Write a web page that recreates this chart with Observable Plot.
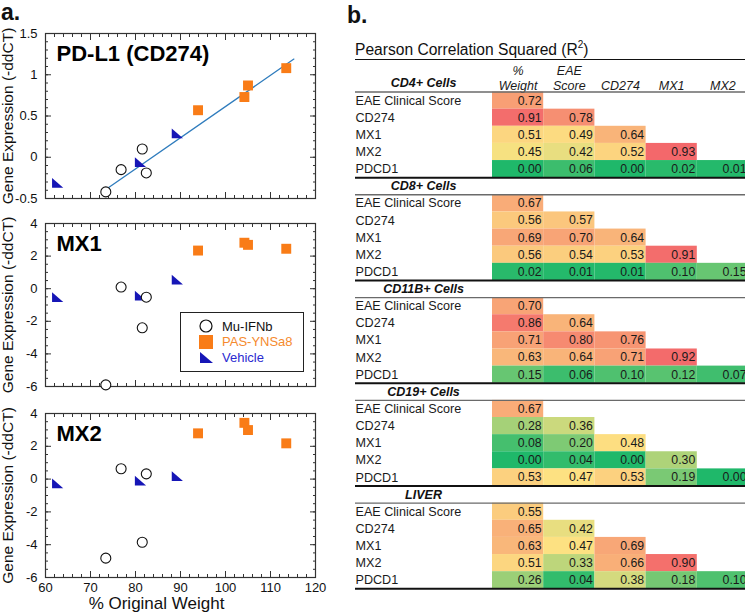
<!DOCTYPE html>
<html><head><meta charset="utf-8">
<script src="https://cdn.jsdelivr.net/npm/d3@7"></script>
<script src="https://cdn.jsdelivr.net/npm/@observablehq/plot@0.6"></script>
<style>
html,body{margin:0;padding:0;background:#fff;overflow:hidden;}
#root{position:relative;width:745px;height:613px;font-family:"Liberation Sans",Arial,sans-serif;color:#111;}
.abs{position:absolute;}
</style></head><body><div id="root"></div>
<script>
// ---------- Panel a data ----------
const xTicks = [60, 70, 80, 90, 100, 110, 120];
const pdl1Ticks = [-0.5, 0, 0.5, 1, 1.5];
const mxTicks = [-6, -4, -2, 0, 2, 4];

const groups = ["Mu-IFNb", "PAS-YNSa8", "Vehicle"];

const muWeight = [73.4, 76.8, 81.5, 82.4];
const pasWeight = [93.9, 104.2, 105.0, 113.5];
const vehWeight = [62.7, 81.1, 89.3];

const pdl1Mu = [-0.42, -0.15, 0.10, -0.19];
const pdl1Pas = [0.57, 0.73, 0.87, 1.08];
const pdl1Veh = [-0.31, -0.06, 0.29];
const pdl1FitWeight = [73.4, 115.2];
const pdl1FitValue = [-0.39, 1.19];

const mx1Mu = [-5.9, 0.1, -2.4, -0.52];
const mx1Pas = [2.34, 2.82, 2.69, 2.45];
const mx1Veh = [-0.52, -0.42, 0.55];

const mx2Mu = [-4.82, 0.63, -3.85, 0.32];
const mx2Pas = [2.79, 3.43, 2.99, 2.18];
const mx2Veh = [-0.26, -0.10, 0.18];

// ---------- Panel b data ----------
const sections = ["CD4+ Cells", "CD8+ Cells", "CD11B+ Cells", "CD19+ Cells", "LIVER"];
const rowLabels = ["EAE Clinical Score", "CD274", "MX1", "MX2", "PDCD1"];
const colLabels = ["%\nWeight", "EAE\nScore", "CD274", "MX1", "MX2"];
const cd4Values = [[0.72], [0.91, 0.78], [0.51, 0.49, 0.64], [0.45, 0.42, 0.52, 0.93], [0.00, 0.06, 0.00, 0.02, 0.01]];
const cd8Values = [[0.67], [0.56, 0.57], [0.69, 0.70, 0.64], [0.56, 0.54, 0.53, 0.91], [0.02, 0.01, 0.01, 0.10, 0.15]];
const cd11bValues = [[0.70], [0.86, 0.64], [0.71, 0.80, 0.76], [0.63, 0.64, 0.71, 0.92], [0.15, 0.06, 0.10, 0.12, 0.07]];
const cd19Values = [[0.67], [0.28, 0.36], [0.08, 0.20, 0.48], [0.00, 0.04, 0.00, 0.30], [0.53, 0.47, 0.53, 0.19, 0.00]];
const liverValues = [[0.55], [0.65, 0.42], [0.63, 0.47, 0.69], [0.51, 0.33, 0.66, 0.90], [0.26, 0.04, 0.38, 0.18, 0.10]];

// ---------- styles ----------
const FONT = "'Liberation Sans', Arial, sans-serif";
const groupColor = {"Mu-IFNb": "#111", "PAS-YNSa8": "#f97c17", "Vehicle": "#1616b6"};
const triangle = {draw(ctx, size) {
  const s = Math.sqrt(size);
  const w = s * 1.15, h = s * 1.0;
  ctx.moveTo(-w / 2, -h / 2); ctx.lineTo(-w / 2, h / 2); ctx.lineTo(w / 2, h / 2); ctx.closePath();
}};

const root = document.getElementById("root");
function place(el, left, top) {
  el.style.position = "absolute"; el.style.left = left + "px"; el.style.top = top + "px";
  root.appendChild(el);
}

function points(mu, pas, veh) {
  return [
    ...muWeight.map((w, i) => ({w, v: mu[i], g: groups[0]})),
    ...pasWeight.map((w, i) => ({w, v: pas[i], g: groups[1]})),
    ...vehWeight.map((w, i) => ({w, v: veh[i], g: groups[2]}))
  ];
}

function panel({pts, title, yMajor, yStep, height, marginBottom, showX, fit}) {
  const yDomain = [yMajor[0], yMajor[yMajor.length - 1]];
  const xMinor = d3.range(60, 120.001, 2);
  const yMinor = d3.range(yDomain[0], yDomain[1] + 1e-9, yStep);
  const none = () => "";
  const marks = [
    Plot.axisX({anchor: "bottom", ticks: xMinor, tickSize: -3, tickFormat: none, label: null, stroke: "#333"}),
    Plot.axisX({anchor: "bottom", ticks: xTicks, tickSize: -6, tickFormat: none, label: null, stroke: "#333"}),
    Plot.axisX({anchor: "top", ticks: xMinor, tickSize: -3, tickFormat: none, label: null, stroke: "#333"}),
    Plot.axisX({anchor: "top", ticks: xTicks, tickSize: -6, tickFormat: none, label: null, stroke: "#333"}),
    Plot.axisY({anchor: "left", ticks: yMinor, tickSize: -3, tickFormat: none, label: null, stroke: "#333"}),
    Plot.axisY({anchor: "left", ticks: yMajor, tickSize: -6, tickFormat: none, label: null, stroke: "#333"}),
    Plot.axisY({anchor: "right", ticks: yMinor, tickSize: -3, tickFormat: none, label: null, stroke: "#333"}),
    Plot.axisY({anchor: "right", ticks: yMajor, tickSize: -6, tickFormat: none, label: null, stroke: "#333"}),
    Plot.axisY({anchor: "left", ticks: yMajor, tickSize: 0, tickPadding: 8, tickFormat: d => String(d), label: null, fontSize: 13, fill: "#111"}),
    Plot.frame({stroke: "#333", strokeWidth: 1.2}),
    Plot.text(["Gene Expression (-ddCT)"], {text: d => d, frameAnchor: "left", textAnchor: "middle", lineAnchor: "middle", dx: -37, rotate: -90, fontSize: 15.5, fill: "#111"}),
    Plot.text([title], {text: d => d, frameAnchor: "top-left", dx: 11, dy: 20, textAnchor: "start", lineAnchor: "middle", fontSize: 22, fontWeight: "bold", fill: "#000"})
  ];
  if (showX) {
    marks.push(Plot.axisX({anchor: "bottom", ticks: xTicks, tickSize: 0, tickPadding: 5, tickFormat: d => String(d), label: null, fontSize: 13, fill: "#111"}));
    marks.push(Plot.text(["% Original Weight"], {text: d => d, frameAnchor: "bottom", textAnchor: "middle", lineAnchor: "middle", dx: -24, dy: 26, fontSize: 17, fill: "#111"}));
  }
  if (fit) {
    marks.push(Plot.line(fit.x.map((w, i) => ({w, v: fit.y[i]})), {x: "w", y: "v", stroke: "#2f7cbd", strokeWidth: 1.3}));
  }
  marks.push(Plot.dot(pts.filter(d => d.g === groups[2]), {x: "w", y: "v", symbol: triangle, r: 5.5, fill: groupColor["Vehicle"]}));
  marks.push(Plot.dot(pts.filter(d => d.g === groups[1]), {x: "w", y: "v", symbol: "square", r: 5.6, fill: groupColor["PAS-YNSa8"]}));
  marks.push(Plot.dot(pts.filter(d => d.g === groups[0]), {x: "w", y: "v", symbol: "circle", r: 5, fill: "white", stroke: "#111", strokeWidth: 1.1}));
  return Plot.plot({
    width: 330, height, marginLeft: 45, marginRight: 15, marginTop: 10, marginBottom,
    x: {domain: [60, 120]}, y: {domain: yDomain},
    style: {fontFamily: FONT, background: "transparent", overflow: "visible"},
    marks
  });
}

place(panel({pts: points(pdl1Mu, pdl1Pas, pdl1Veh), title: "PD-L1 (CD274)", yMajor: pdl1Ticks, yStep: 0.1,
  height: 185, marginBottom: 10, showX: false, fit: {x: pdl1FitWeight, y: pdl1FitValue}}), 0, 23);
place(panel({pts: points(mx1Mu, mx1Pas, mx1Veh), title: "MX1", yMajor: mxTicks, yStep: 0.5,
  height: 183, marginBottom: 10, showX: false}), 0, 213);
place(panel({pts: points(mx2Mu, mx2Pas, mx2Veh), title: "MX2", yMajor: mxTicks, yStep: 0.5,
  height: 210, marginBottom: 36, showX: true}), 0, 403);

// legend (HTML)
const legend = document.createElement("div");
legend.style.cssText = "width:124px;height:60px;border:1.4px solid #222;background:#fff;box-sizing:border-box;";
const legendShapes = {
  "Mu-IFNb": '<circle cx="8" cy="8" r="6" fill="white" stroke="#111" stroke-width="1.2"/>',
  "PAS-YNSa8": '<rect x="1" y="1" width="14" height="14" fill="#f97c17"/>',
  "Vehicle": '<polygon points="2,3 2,14 15,14" fill="#1616b6"/>'
};
const legendText = {"Mu-IFNb": "#111", "PAS-YNSa8": "#f58a2e", "Vehicle": "#2a2ad0"};
groups.forEach((g, i) => {
  const item = document.createElement("div");
  item.style.cssText = `position:absolute;left:17px;top:${5 + i * 15.5}px;height:16px;display:flex;align-items:center;`;
  item.innerHTML = `<svg width="16" height="16">${legendShapes[g]}</svg><span style="margin-left:8px;font-size:13px;color:${legendText[g]}">${g}</span>`;
  legend.appendChild(item);
});
place(legend, 180, 312);

// panel labels
const la = document.createElement("div");
la.textContent = "a."; la.style.cssText = "font-size:23px;font-weight:bold;line-height:23px;";
place(la, 1, 1);
const lb = document.createElement("div");
lb.textContent = "b."; lb.style.cssText = "font-size:23px;font-weight:bold;line-height:23px;";
place(lb, 347, 4);

// table title
const tt = document.createElement("div");
tt.innerHTML = 'Pearson Correlation Squared (R<sup style="font-size:10px;vertical-align:7px;line-height:0">2</sup>)';
tt.style.cssText = "width:390px;font-size:15.6px;line-height:18px;border-bottom:1.6px solid #111;";
place(tt, 355, 41);

// ---------- heatmap table ----------
const sectionValues = [cd4Values, cd8Values, cd11bValues, cd19Values, liverValues];
const cells = [], rowText = [], sectionText = [];
sectionValues.forEach((vals, s) => {
  sectionText.push({row: s * 6, label: sections[s]});
  rowLabels.forEach((lab, i) => {
    rowText.push({row: s * 6 + 1 + i, label: lab});
    vals[i].forEach((v, c) => cells.push({row: s * 6 + 1 + i, col: c, value: v}));
  });
});
const grayRules = sections.map((_, s) => s * 6 + 1);
const blackRules = sections.map((_, s) => s * 6 + 6);

const table = Plot.plot({
  width: 415, height: 613, marginLeft: 25, marginRight: 0, marginTop: 0, marginBottom: 0,
  x: {domain: [0, 5], range: [162, 418], axis: null},
  y: {domain: [0, 30], range: [74.4, 588.3], axis: null},
  color: {type: "linear", domain: [0, 0.93], clamp: true,
    interpolate: d3.piecewise(d3.interpolateRgb, ["#1fb86a", "#fde282", "#f3686b"])},
  style: {fontFamily: FONT, background: "transparent", overflow: "visible"},
  marks: [
    Plot.rect(cells, {x1: "col", x2: d => d.col + 1, y1: "row", y2: d => d.row + 1, fill: "value"}),
    Plot.text(cells, {x: d => d.col + 1, y: d => d.row + 0.5, text: d => d.value.toFixed(2), textAnchor: "end", dx: -2, fontSize: 12.3, fill: "#1a1a1a"}),
    Plot.text(rowText, {y: d => d.row + 0.5, text: "label", frameAnchor: "left", textAnchor: "start", fontSize: 12.6, fill: "#1a1a1a"}),
    Plot.text(sectionText, {y: d => d.row + 0.5, text: "label", frameAnchor: "left", dx: 68, textAnchor: "middle", fontSize: 12.5, fontWeight: "bold", fontStyle: "italic", fill: "#111"}),
    Plot.text(colLabels.map((l, c) => ({c, l})), {x: d => d.c + 0.5, y: 1, text: "l", lineAnchor: "bottom", dy: -2, lineHeight: 1.2, fontSize: 12.5, fontStyle: "italic", fill: "#1a1a1a"}),
    Plot.ruleY(grayRules, {stroke: "#6a6a6a", strokeWidth: 1.4}),
    Plot.ruleY(blackRules, {stroke: "#111", strokeWidth: 2})
  ]
});
place(table, 330, 0);
</script></body></html>
